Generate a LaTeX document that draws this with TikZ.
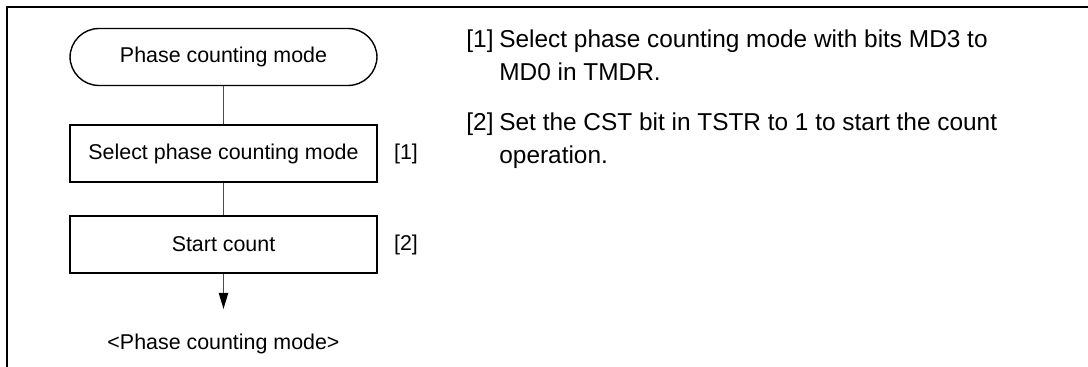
\documentclass[tikz,border=0pt]{standalone}
\usepackage{fontspec}
\setmainfont{Liberation Sans}
\usetikzlibrary{arrows.meta}
\begin{document}
\begin{tikzpicture}[x=0.5pt,y=-0.5pt,
  flowbox/.style={draw=black,line width=0.7pt,minimum width=153.5pt,minimum height=28.5pt,inner sep=0pt,font=\fontsize{10.7}{12}\selectfont},
  termbox/.style={flowbox,rounded corners=14.5pt},
  conn/.style={draw=black!70,line width=0.8pt},
  lbl/.style={font=\fontsize{10.7}{12}\selectfont,inner sep=0pt},
  note/.style={font=\fontsize{12.2}{14}\selectfont,inner sep=0pt,anchor=base west}]
\useasboundingbox (0,0) rectangle (1088,367);
\draw[line width=0.9pt] (7,367) -- (7,7) -- (1088,7);
\node[termbox] (start) at (223.5,57) {Phase counting mode};
\node[flowbox] (sel) at (223.5,153.5) {Select phase counting mode};
\node[flowbox] (cnt) at (223.5,244.5) {Start count};
\node[lbl] (l1) at (406,154) {[1]};
\node[lbl] (l2) at (406,245) {[2]};
\coordinate (end) at (223.5,309);
\node[lbl] (cap) at (223.5,344) {<Phase counting mode>};
\draw[conn] (start) -- (sel);
\draw[conn] (sel) -- (cnt);
\draw[conn,-{Triangle[length=8pt,width=4.6pt,color=black,fill=black]}] (cnt) -- (end);
\node[note] (n1) at (466,48) {[1]};
\node[note] (t1a) at (499,48) {Select phase counting mode with bits MD3 to};
\node[note] (t1b) at (499,81) {MD0 in TMDR.};
\node[note] (n2) at (466,131) {[2]};
\node[note] (t2a) at (499,131) {Set the CST bit in TSTR to 1 to start the count};
\node[note] (t2b) at (499,164) {operation.};
\end{tikzpicture}
\end{document}
